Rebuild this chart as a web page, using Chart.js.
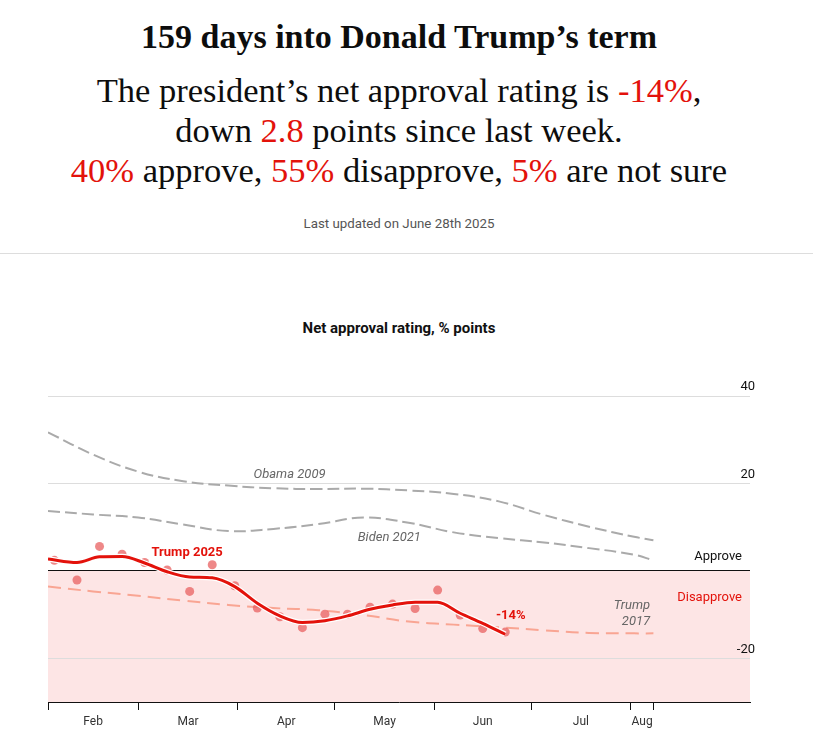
<!DOCTYPE html>
<html>
<head>
<meta charset="utf-8">
<script src="https://cdn.jsdelivr.net/npm/chart.js@4"></script>
<style>
  body { margin: 0; background: #fff; width: 813px; height: 737px; position: relative; overflow: hidden; }
  .red { color: #e3120b; }
  #title { position: absolute; top: 18px; left: 0; width: 798px; text-align: center;
    font: bold 34px/38px "Liberation Serif", serif; color: #0d0d0d; }
  #dek { position: absolute; top: 70px; left: 0; width: 798px; text-align: center;
    font: 34.5px/40px "Liberation Serif", serif; color: #0d0d0d; }
  #updated { position: absolute; top: 216px; left: 0; width: 798px; text-align: center;
    font: 13.3px/16px Roboto, sans-serif; color: #555; }
  #rule { position: absolute; top: 253px; left: 0; width: 813px; height: 1px; background: #ddd; }
  #charttitle { position: absolute; top: 319px; left: 0; width: 798px; text-align: center;
    font: bold 15px/18px Roboto, sans-serif; color: #111; }
  #chart { position: absolute; top: 340px; left: 0; }
</style>
</head>
<body>
<div id="title">159 days into Donald Trump’s term</div>
<div id="dek">The president’s net approval rating is <span class="red">-14%</span>,<br>
down <span class="red">2.8</span> points since last week.<br>
<span class="red">40%</span> approve, <span class="red">55%</span> disapprove, <span class="red">5%</span> are not sure</div>
<div id="updated">Last updated on June 28th 2025</div>
<div id="rule"></div>
<div id="charttitle">Net approval rating, % points</div>
<canvas id="chart" width="813" height="397"></canvas>

<script>
  // x values are days since 1st February
  const monthStarts = [0, 28, 59, 89, 120, 150, 181, 188];
  const monthMids = [14, 43.5, 74, 104.5, 135, 165.5, 184.5];
  const monthLabels = ['Feb', 'Mar', 'Apr', 'May', 'Jun', 'Jul', 'Aug'];
  const yTicks = [40, 20, 0, -20];

  // weekly polls, Trump 2025
  const pollDays = [2, 9, 16, 23, 30, 37, 44, 51, 58, 65, 72, 79, 86, 93, 100, 107, 114, 121, 128, 135, 142];
  const pollValues = [2.4, -2.1, 5.6, 3.8, 1.9, 0.2, -4.7, 1.4, -3.4, -8.5, -10.5, -13.0, -9.9, -9.9, -8.3, -7.6, -8.6, -4.4, -10.1, -13.2, -14.0];

  // smoothed Trump 2025 average
  const trendDays = [0, 9, 16, 23, 30, 37, 44, 51, 58, 65, 72, 79, 86, 93, 100, 107, 114, 121, 128, 135, 142];
  const trendValues = [2.7, 1.9, 3.2, 3.3, 1.8, -0.2, -1.4, -1.6, -3.6, -7.4, -10.3, -11.8, -11.4, -10.3, -8.8, -7.8, -7.2, -7.2, -9.7, -12.0, -14.5];

  // earlier presidents, same point in their terms
  const pastDays = [0, 14, 28, 42, 56, 70, 84, 98, 112, 126, 140, 154, 168, 182, 188];
  const obama2009 = [31.7, 26.6, 22.7, 20.5, 19.5, 18.9, 18.7, 18.8, 18.4, 17.6, 15.9, 12.8, 10.1, 7.8, 7.0];
  const biden2021 = [13.7, 12.9, 12.2, 10.6, 9.1, 9.6, 10.7, 12.2, 11.0, 8.8, 7.5, 6.5, 5.2, 3.7, 2.4];
  const trump2017 = [-3.6, -4.7, -5.7, -6.8, -7.8, -8.5, -9.0, -10.1, -11.6, -12.3, -12.9, -13.6, -14.2, -14.3, -14.3];

  const RED = '#e3120b';
  const FONT = 'Roboto, sans-serif';

  function pts(xs, ys) {
    return xs.map((x, i) => ({ x: x, y: ys[i] }));
  }

  // pink disapprove band below zero
  const bandPlugin = {
    id: 'band',
    beforeDraw(chart) {
      const { ctx, chartArea, scales } = chart;
      const y0 = scales.y.getPixelForValue(0);
      ctx.save();
      ctx.fillStyle = '#fde5e5';
      ctx.fillRect(chartArea.left, y0, chartArea.right - chartArea.left, chartArea.bottom - y0);
      ctx.restore();
    }
  };

  // series labels placed in data space
  const labelPlugin = {
    id: 'labels',
    afterDatasetsDraw(chart) {
      const { ctx, scales, chartArea } = chart;
      const X = v => scales.x.getPixelForValue(v);
      const Y = v => scales.y.getPixelForValue(v);
      function text(str, x, y, font, color, align) {
        ctx.font = font;
        ctx.fillStyle = color;
        ctx.textAlign = align || 'center';
        ctx.textBaseline = 'middle';
        ctx.fillText(str, x, y);
      }
      ctx.save();
      text('Obama 2009', X(75), Y(22), 'italic 13px ' + FONT, '#666');
      text('Biden 2021', X(106), Y(7.6), 'italic 13px ' + FONT, '#666');
      text('Trump 2025', X(43.2), Y(4.1), 'bold 13px ' + FONT, RED);
      text('-14%', X(143.7), Y(-10.3), 'bold 13px ' + FONT, RED);
      text('Trump', X(187), Y(-8.0), 'italic 13px ' + FONT, '#666', 'right');
      text('2017', X(187), Y(-11.7), 'italic 13px ' + FONT, '#666', 'right');
      text('Approve', chartArea.right - 8, Y(3.2), '13px ' + FONT, '#111', 'right');
      text('Disapprove', chartArea.right - 8, Y(-6.2), '13px ' + FONT, RED, 'right');
      ctx.restore();
    }
  };

  new Chart(document.getElementById('chart'), {
    type: 'line',
    data: {
      datasets: [
        {
          label: 'Trump 2025',
          data: pts(trendDays, trendValues),
          borderColor: RED, borderWidth: 3,
          pointRadius: 0, cubicInterpolationMode: 'monotone',
          order: 0
        },
        {
          label: 'halo',
          data: pts(trendDays, trendValues),
          borderColor: '#fff', borderWidth: 5.5,
          pointRadius: 0, cubicInterpolationMode: 'monotone',
          order: 1
        },
        {
          label: 'Polls',
          data: pts(pollDays, pollValues),
          showLine: false,
          pointRadius: 4.5, pointBorderWidth: 0,
          pointBackgroundColor: 'rgba(232, 96, 96, 0.75)',
          order: 2
        },
        {
          label: 'Trump 2017',
          data: pts(pastDays, trump2017),
          borderColor: '#f9a593', borderWidth: 2, borderDash: [13, 7],
          pointRadius: 0, tension: 0.4,
          order: 3
        },
        {
          label: 'Biden 2021',
          data: pts(pastDays, biden2021),
          borderColor: '#aaa', borderWidth: 2, borderDash: [12, 5],
          pointRadius: 0, tension: 0.4,
          order: 4
        },
        {
          label: 'Obama 2009',
          data: pts(pastDays, obama2009),
          borderColor: '#aaa', borderWidth: 2, borderDash: [12, 5],
          pointRadius: 0, tension: 0.4,
          order: 5
        }
      ]
    },
    options: {
      responsive: false,
      animation: false,
      layout: { padding: { left: 48, right: 63, top: 56, bottom: 0 } },
      plugins: {
        legend: { display: false },
        tooltip: { enabled: false }
      },
      scales: {
        x: {
          type: 'linear',
          min: 0,
          max: 218,
          afterBuildTicks: scale => {
            scale.ticks = monthStarts.concat(monthMids).sort((a, b) => a - b).map(v => ({ value: v }));
          },
          afterFit: scale => { scale.height = 35; },
          border: { display: true, color: '#111', width: 1 },
          grid: {
            drawOnChartArea: false,
            drawTicks: true,
            tickLength: 8,
            tickWidth: 1,
            tickColor: ctx => monthStarts.includes(ctx.tick.value) ? '#111' : 'rgba(0,0,0,0)'
          },
          ticks: {
            autoSkip: false,
            maxRotation: 0,
            padding: 5,
            color: '#333',
            font: { family: FONT, size: 12 },
            callback: value => {
              const i = monthMids.indexOf(value);
              return i >= 0 ? monthLabels[i] : '';
            }
          }
        },
        y: {
          position: 'right',
          min: -30,
          max: 40,
          afterBuildTicks: scale => {
            scale.ticks = yTicks.map(v => ({ value: v }));
          },
          afterFit: scale => { scale.width = 0; },
          border: { display: false },
          grid: {
            drawTicks: false,
            color: ctx => ctx.tick.value === 0 ? '#111' : '#ddd',
            lineWidth: 1
          },
          ticks: {
            mirror: true,
            padding: 5,
            labelOffset: -9,
            color: '#111',
            font: { family: FONT, size: 13 },
            callback: value => value === 0 ? '' : String(value)
          }
        }
      }
    },
    plugins: [bandPlugin, labelPlugin]
  });
</script>
</body>
</html>
